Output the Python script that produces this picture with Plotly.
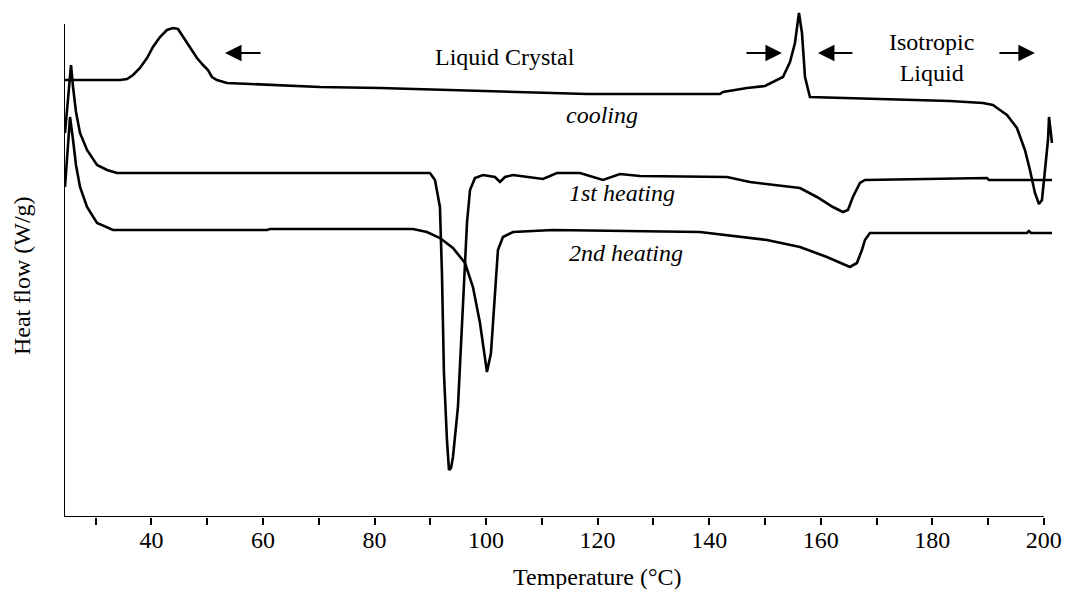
import plotly.graph_objects as go

# ---- data ----
cool_T = [24.33, 34.38, 35.64, 36.71, 37.95, 39.21, 40.28, 41.54, 42.79, 43.88, 44.76, 45.66,
          46.91, 48.17, 49.26, 50.14, 50.86, 51.75, 53.56, 61.26, 70.22, 80.98, 92.63, 104.29,
          118.09, 141.93, 142.47, 146.78, 150.00, 153.23, 154.49, 155.38, 156.10, 156.64,
          157.18, 158.07, 165.24, 183.16, 189.08, 190.87, 192.13, 193.39, 195.18, 196.61,
          197.51, 198.41, 199.13, 199.67, 200.21, 200.75, 200.93, 201.11, 201.47]
cool_H = [4.37, 4.37, 4.38, 4.42, 4.49, 4.59, 4.70, 4.80, 4.87, 4.89, 4.88, 4.80,
          4.69, 4.59, 4.52, 4.47, 4.40, 4.37, 4.34, 4.32, 4.30, 4.29, 4.27, 4.25,
          4.23, 4.23, 4.25, 4.29, 4.31, 4.40, 4.55, 4.74, 5.04, 4.84,
          4.40, 4.20, 4.19, 4.16, 4.14, 4.12, 4.07, 4.02, 3.89, 3.67,
          3.47, 3.24, 3.13, 3.17, 3.47, 3.77, 4.00, 3.90, 3.74]

heat1_T = [24.51, 25.04, 25.59, 25.95, 26.48, 27.20, 28.46, 30.25, 32.05, 33.84, 89.94, 90.84,
           91.73, 92.09, 92.45, 92.99, 93.35, 93.71, 94.07, 94.96, 95.86, 96.58, 97.12, 98.01,
           99.45, 101.60, 102.49, 103.39, 104.83, 107.88, 110.20, 112.71, 116.83, 120.96,
           124.01, 127.59, 143.19, 147.31, 156.28, 159.32, 162.19, 163.98, 164.88, 165.77,
           167.03, 167.93, 189.80, 190.16, 201.47]
heat1_H = [3.84, 4.17, 4.52, 4.30, 4.05, 3.84, 3.67, 3.52, 3.47, 3.44, 3.44, 3.37,
           3.10, 2.44, 1.44, 0.77, 0.47, 0.49, 0.60, 1.10, 2.10, 2.94, 3.27, 3.39,
           3.42, 3.40, 3.35, 3.40, 3.42, 3.40, 3.38, 3.44, 3.44, 3.37,
           3.43, 3.41, 3.40, 3.35, 3.29, 3.20, 3.10, 3.05, 3.07, 3.20,
           3.34, 3.37, 3.39, 3.37, 3.37]

heat2_T = [24.51, 24.87, 25.41, 25.95, 26.48, 27.20, 28.46, 30.25, 33.12, 60.72, 61.26, 86.89,
           89.40, 91.73, 94.07, 96.22, 97.65, 98.91, 99.63, 100.16, 100.88, 101.42, 102.13,
           103.03, 104.83, 112.00, 138.35, 150.36, 156.28, 161.11, 163.44, 165.24, 166.49,
           167.39, 167.93, 168.82, 196.97, 197.33, 197.69, 201.47]
heat2_H = [3.30, 3.57, 4.00, 3.77, 3.52, 3.30, 3.10, 2.94, 2.87, 2.87, 2.88, 2.88,
           2.85, 2.79, 2.69, 2.54, 2.30, 1.94, 1.64, 1.45, 1.64, 2.10, 2.67,
           2.80, 2.85, 2.87, 2.85, 2.77, 2.70, 2.60, 2.54, 2.50, 2.54,
           2.67, 2.77, 2.84, 2.84, 2.86, 2.84, 2.84]

tick_vals = [30, 40, 50, 60, 70, 80, 90, 100, 110, 120, 130, 140, 150, 160, 170, 180, 190, 200]
tick_text = ["", "40", "", "60", "", "80", "", "100", "", "120", "", "140", "", "160", "",
             "180", "", "200"]

FONT = "Liberation Serif, Times New Roman, serif"
FS = 24
X0, X1 = 24.33, 202.9
Y0, Y1 = 0.0, 5.17

fig = go.Figure()
line = dict(color="black", width=2.6)
for T, H, name in [(cool_T, cool_H, "cooling"), (heat1_T, heat1_H, "1st heating"),
                   (heat2_T, heat2_H, "2nd heating")]:
    fig.add_trace(go.Scatter(x=T, y=H, mode="lines", line=line, name=name,
                             showlegend=False, hoverinfo="skip"))

# axis lines
fig.add_shape(type="line", xref="x", yref="y", x0=X0, x1=200, y0=0, y1=0,
              line=dict(color="black", width=2.2))
fig.add_shape(type="line", xref="x", yref="y", x0=X0, x1=X0, y0=0, y1=4.93,
              line=dict(color="black", width=2))

ann = []
def txt(x, y, s, italic=False, xanchor="center", xref="x", yref="y", angle=0):
    t = f"<i>{s}</i>" if italic else s
    ann.append(dict(x=x, y=y, xref=xref, yref=yref, text=t, showarrow=False,
                    xanchor=xanchor, yanchor="middle", textangle=angle,
                    font=dict(family=FONT, size=FS, color="black")))

def arrow(tail, head, y):
    ann.append(dict(x=head, y=y, ax=tail, ay=y, xref="x", yref="y", axref="x", ayref="y",
                    text="", showarrow=True, arrowhead=2, arrowsize=1.5, arrowwidth=2.2,
                    arrowcolor="black"))

txt(103.4, 4.60, "Liquid Crystal")
txt(179.9, 4.595, "Isotropic<br>Liquid")
txt(120.8, 4.02, "cooling", italic=True)
txt(114.5, 3.24, "1st heating", italic=True, xanchor="left")
txt(114.5, 2.64, "2nd heating", italic=True, xanchor="left")
arrow(59.83, 53.19, 4.64)
arrow(146.42, 153.05, 4.64)
arrow(165.95, 159.50, 4.64)
arrow(191.77, 198.40, 4.64)
txt(120, -0.116, "Temperature (°C)", xref="x", yref="paper")
txt(-0.0422, 0.468, "Heat flow (W/g)", xref="paper", yref="paper", angle=-90)

fig.update_layout(
    width=1073, height=589,
    margin=dict(l=64, r=13, t=0, b=72, autoexpand=False),
    plot_bgcolor="white", paper_bgcolor="white",
    annotations=ann,
    font=dict(family=FONT, size=FS, color="black"),
    xaxis=dict(range=[X0, X1], showgrid=False, zeroline=False, showline=False,
               tickmode="array", tickvals=tick_vals, ticktext=tick_text,
               ticks="outside", ticklen=7, tickwidth=2, tickcolor="black",
               ticklabelstandoff=-6, automargin=False,
               tickfont=dict(family=FONT, size=FS, color="black")),
    yaxis=dict(range=[Y0, Y1], showgrid=False, zeroline=False, showline=False,
               showticklabels=False, ticks="", automargin=False),
)

fig.write_html("out.html", config={"displayModeBar": False},
               post_script="document.body.style.margin='0';document.body.style.overflow='hidden';")
